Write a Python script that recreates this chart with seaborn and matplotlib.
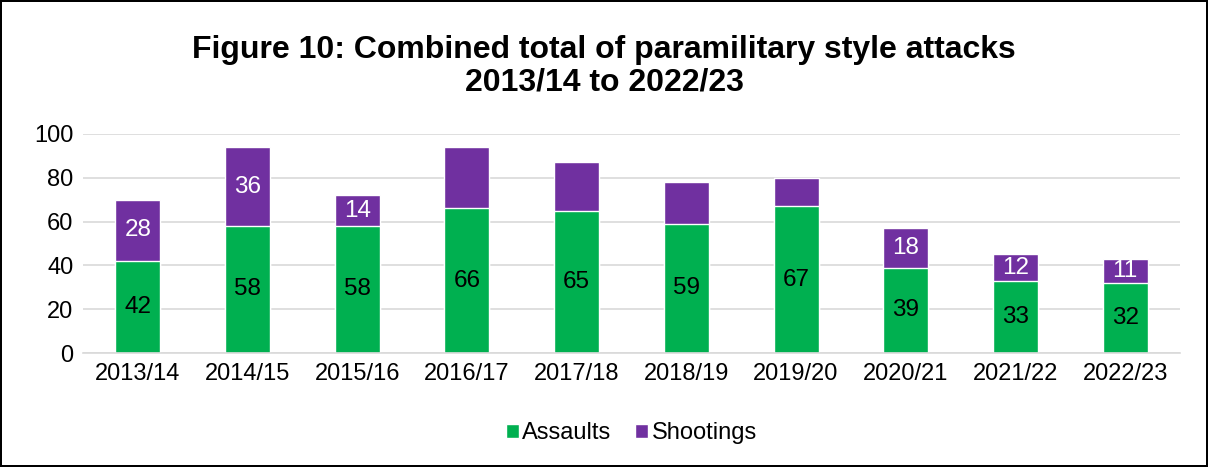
import pandas as pd
import numpy as np

import matplotlib
matplotlib.use("Agg")
import matplotlib.pyplot as plt
import seaborn as sns

years = ["2013/14", "2014/15", "2015/16", "2016/17", "2017/18",
         "2018/19", "2019/20", "2020/21", "2021/22", "2022/23"]
assaults = [42, 58, 58, 66, 65, 59, 67, 39, 33, 32]
shootings = [28, 36, 14, 28, 22, 19, 13, 18, 12, 11]
# only these shootings segments carry a label in the original
shoot_labelled = [True, True, True, False, False, False, False, True, True, True]

df = pd.DataFrame({"Year": years, "Assaults": assaults, "Shootings": shootings})
df["Total"] = df["Assaults"] + df["Shootings"]

sns.set_style("white")
plt.rcParams["font.family"] = ["Liberation Sans", "DejaVu Sans"]
plt.rcParams["text.color"] = "black"
plt.rcParams["xtick.color"] = "black"
plt.rcParams["ytick.color"] = "black"

green = "#00B050"
purple = "#7030A0"

fig = plt.figure(figsize=(12.08, 4.67), dpi=100)
ax = fig.add_axes([0.0687, 0.2441, 0.9081, 0.469])

# stacked: total in purple underneath, assaults in green on top
sns.barplot(data=df, x="Year", y="Total", order=years, color=purple,
            width=0.41, saturation=1, ax=ax, label="Shootings")
sns.barplot(data=df, x="Year", y="Assaults", order=years, color=green,
            width=0.41, saturation=1, ax=ax, label="Assaults")

tot_bars = ax.containers[0]
as_bars = ax.containers[1]
ax.bar_label(as_bars, labels=[str(v) for v in assaults], label_type="center",
             fontsize=17.5, color="black")
sh_labels = [str(v) if show else "" for v, show in zip(shootings, shoot_labelled)]
for bar, lab, a, s in zip(tot_bars, sh_labels, assaults, shootings):
    if lab:
        ax.text(bar.get_x() + bar.get_width() / 2, a + s / 2, lab,
                ha="center", va="center", fontsize=17.5, color="white")

ax.set_ylim(0, 100)
ax.set_xlim(-0.5, 9.5)
ax.set_yticks(range(0, 101, 20))
ax.yaxis.grid(True, color="#d9d9d9", linewidth=1.2)
ax.set_axisbelow(True)
for side in ["top", "right", "left"]:
    ax.spines[side].set_visible(False)
ax.spines["bottom"].set_color("#d9d9d9")
ax.spines["bottom"].set_linewidth(1.2)
ax.tick_params(axis="both", length=0, labelsize=17, pad=7)
ax.set_xlabel("")
ax.set_ylabel("")

handles, labels = ax.get_legend_handles_labels()
order = [labels.index("Assaults"), labels.index("Shootings")]
ax.legend([handles[i] for i in order], [labels[i] for i in order],
          loc="upper center", bbox_to_anchor=(0.5, -0.22), ncol=2, frameon=False,
          fontsize=17, handlelength=0.55, handleheight=0.55, handletextpad=0.15,
          columnspacing=1.0)

fig.suptitle("Figure 10: Combined total of paramilitary style attacks\n2013/14 to 2022/23",
             fontsize=23, fontweight="bold", y=0.925, linespacing=1.1, color="black")

fig.patch.set_edgecolor("black")
fig.patch.set_linewidth(1.5)

plt.savefig("out.png", dpi=100, edgecolor=fig.get_edgecolor())
